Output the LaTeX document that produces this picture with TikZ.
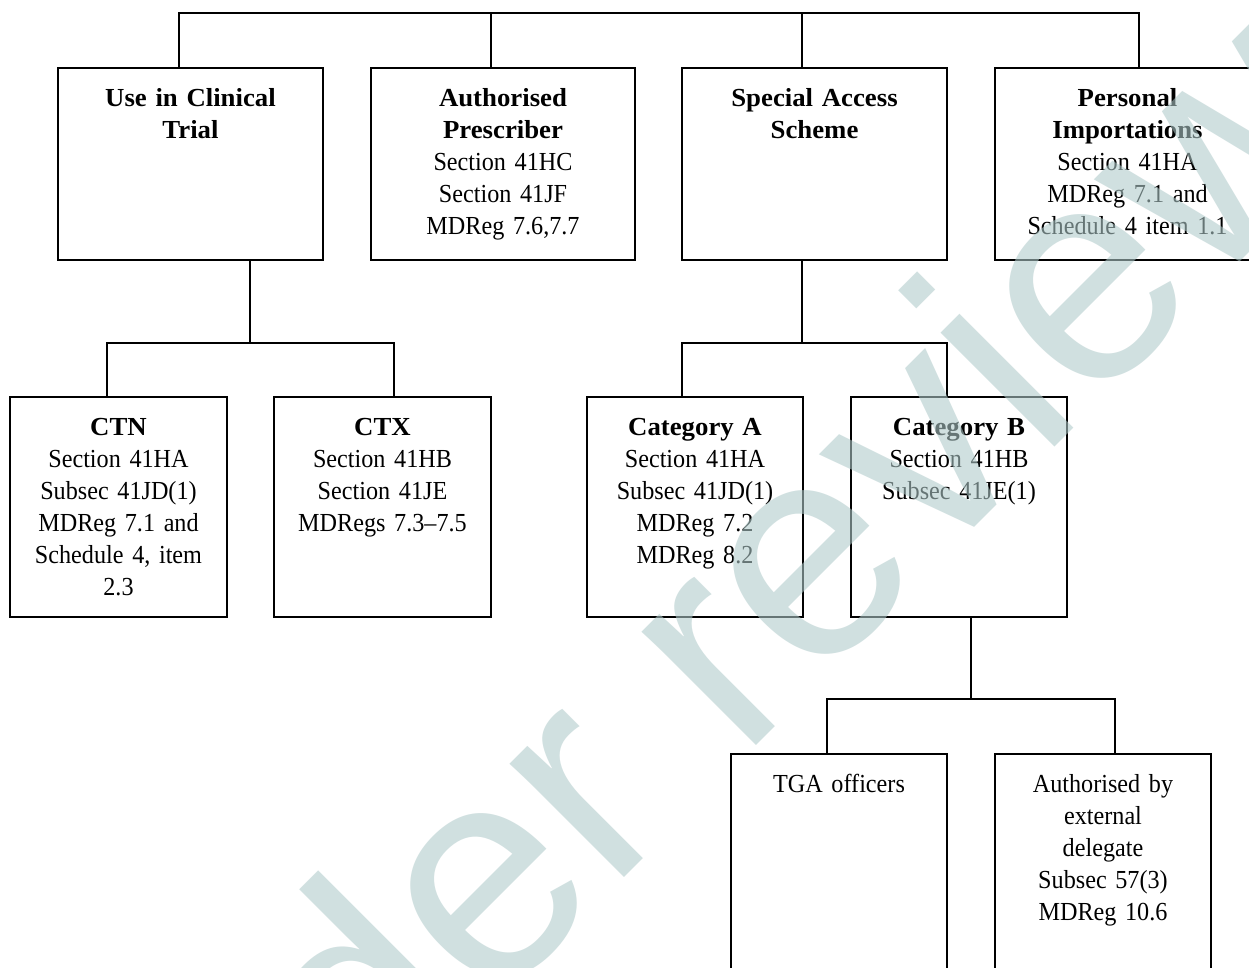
\documentclass[tikz,border=0pt]{standalone}
\usepackage{fontspec}
\setmainfont{Liberation Serif}[FakeStretch=0.93]
\newfontfamily\headfont{Liberation Serif Bold}[FakeStretch=1.03]
\newfontfamily\wmfont{Liberation Sans}
\definecolor{wmcol}{RGB}{175,202,202}
\begin{document}
\begin{tikzpicture}[x=1pt,y=-1pt,
  box/.style={draw, line width=1.6pt, rectangle, anchor=north west,
    outer sep=0pt, inner sep=0pt},
  wide/.style={minimum width=265pt, minimum height=192pt},
  narrow/.style={minimum width=216pt, minimum height=220pt},
  tall/.style={minimum width=216pt, minimum height=240pt},
  txt/.style={anchor=north, inner sep=0pt, align=center,
    font=\fontsize{26}{32}\selectfont},
  txtw/.style={txt, text width=255pt},
  txtn/.style={txt, text width=210pt},
  wire/.style={line width=1.6pt},
  wm/.style={inner sep=0pt, text=wmcol, text opacity=0.58,
    font=\wmfont\fontsize{305}{305}\selectfont}]
\useasboundingbox (0,0) rectangle (1249,968);
\clip (0,0) rectangle (1249,968);
\fill[white] (0,0) rectangle (1249,968);

% top row
\node[box, wide] (uct) at (58,68) {};
\node[box, wide, minimum width=264pt] (ap) at (371,68) {};
\node[box, wide] (sas) at (682,68) {};
\node[box, wide] (pi) at (995,68) {};

% second row
\node[box, narrow, minimum width=217pt] (ctn) at (10,397) {};
\node[box, narrow, minimum width=217pt] (ctx) at (274,397) {};
\node[box, narrow] (ca) at (587,397) {};
\node[box, narrow] (cb) at (851,397) {};

% third row
\node[box, tall] (tga) at (731,754) {};
\node[box, tall] (ext) at (995,754) {};

% texts
\node[txtw] (uct-t) at ([yshift=-15.6pt]uct.north)
  {\strut{\headfont Use in Clinical\\Trial}};
\node[txtw] (ap-t) at ([yshift=-15.6pt]ap.north)
  {\strut{\headfont Authorised\\Prescriber}\\Section 41HC\\Section 41JF\\MDReg 7.6,7.7};
\node[txtw] (sas-t) at ([yshift=-15.6pt]sas.north)
  {\strut{\headfont Special Access\\Scheme}};
\node[txtw] (pi-t) at ([yshift=-15.6pt]pi.north)
  {\strut{\headfont Personal\\Importations}\\Section 41HA\\MDReg 7.1 and\\Schedule 4 item 1.1};

\node[txtn] (ctn-t) at ([yshift=-15.6pt]ctn.north)
  {\strut{\headfont CTN}\\Section 41HA\\Subsec 41JD(1)\\MDReg 7.1 and\\Schedule 4, item\\2.3};
\node[txtn] (ctx-t) at ([yshift=-15.6pt]ctx.north)
  {\strut{\headfont CTX}\\Section 41HB\\Section 41JE\\MDRegs 7.3–7.5};
\node[txtn] (ca-t) at ([yshift=-15.6pt]ca.north)
  {\strut{\headfont Category A}\\Section 41HA\\Subsec 41JD(1)\\MDReg 7.2\\MDReg 8.2};
\node[txtn] (cb-t) at ([yshift=-15.6pt]cb.north)
  {\strut{\headfont Category B}\\Section 41HB\\Subsec 41JE(1)};

\node[txtn] (tga-t) at ([yshift=-15.6pt]tga.north)
  {\strut TGA officers};
\node[txtn] (ext-t) at ([yshift=-15.6pt]ext.north)
  {\strut Authorised by\\external\\delegate\\Subsec 57(3)\\MDReg 10.6};

% junction points
\coordinate (t1) at (179,13);
\coordinate (t2) at (491,13);
\coordinate (t3) at (802,13);
\coordinate (t4) at (1139,13);
\coordinate (j1) at (250,343);
\coordinate (j1a) at (107,343);
\coordinate (j1b) at (394,343);
\coordinate (j2) at (802,343);
\coordinate (j2a) at (682,343);
\coordinate (j2b) at (947,343);
\coordinate (j3) at (971,699);
\coordinate (j3a) at (827,699);
\coordinate (j3b) at (1115,699);

% connectors
\draw[wire] (t1 |- uct.north) -- (t1) -- (t4) -- (t4 |- pi.north);
\draw[wire] (t2) -- (t2 |- ap.north);
\draw[wire] (t3) -- (t3 |- sas.north);

\draw[wire] (uct.south -| j1) -- (j1);
\draw[wire] (j1a |- ctn.north) -- (j1a) -- (j1b) -- (j1b |- ctx.north);

\draw[wire] (sas.south -| j2) -- (j2);
\draw[wire] (j2a |- ca.north) -- (j2a) -- (j2b) -- (j2b |- cb.north);

\draw[wire] (cb.south -| j3) -- (j3);
\draw[wire] (j3a |- tga.north) -- (j3a) -- (j3b) -- (j3b |- ext.north);

% watermark
\node[wm, rotate=45, anchor=base west] (mark) at (94,1408) {Under review};
\end{tikzpicture}
\end{document}
